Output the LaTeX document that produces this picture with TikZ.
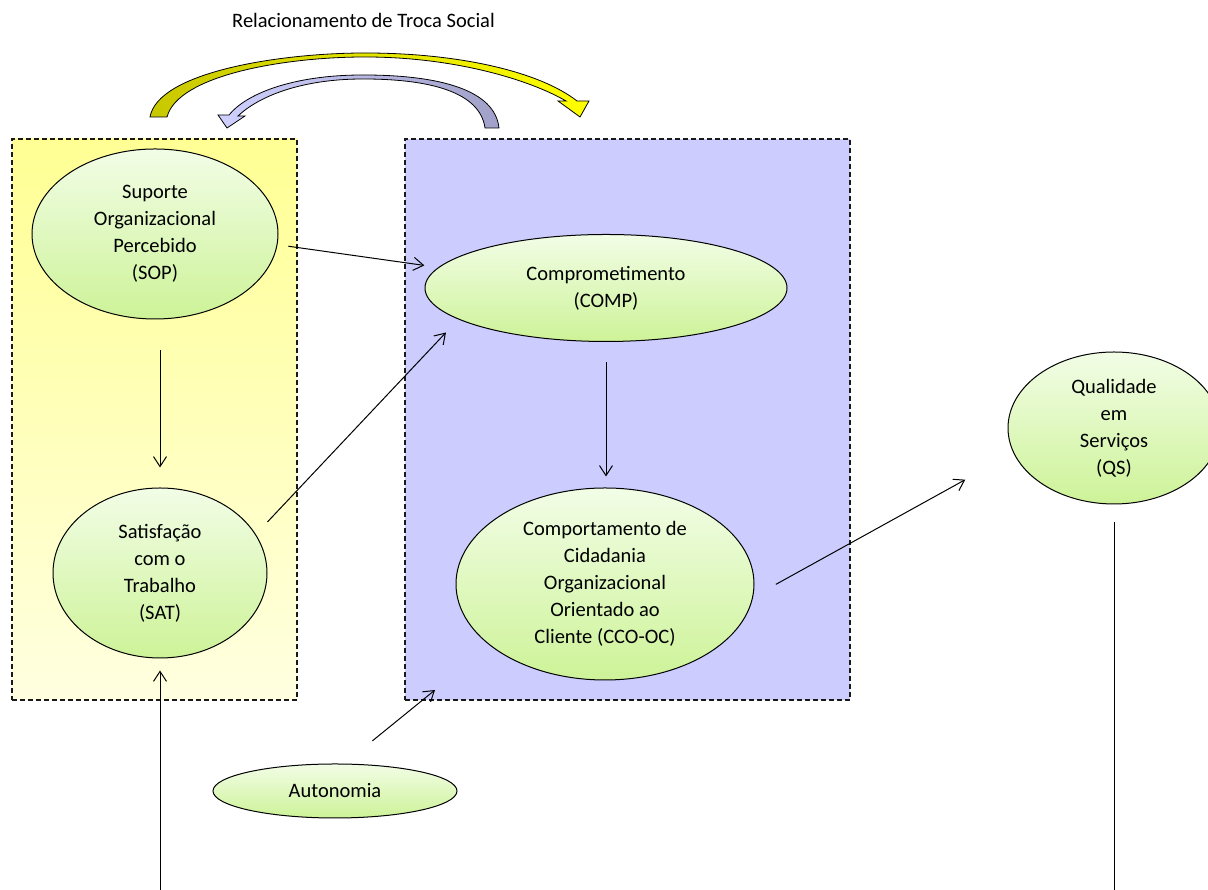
\documentclass[tikz,border=0pt]{standalone}
\usepackage{fontspec}
\setmainfont{Carlito}
\usetikzlibrary{shapes}
\usetikzlibrary{arrows.meta}
\definecolor{elltop}{RGB}{242,253,230}
\definecolor{ellbot}{RGB}{205,243,152}
\definecolor{roxo}{RGB}{204,204,255}
\definecolor{oliva}{RGB}{200,200,0}
\definecolor{amar}{RGB}{255,255,0}
\definecolor{lilas}{RGB}{208,208,255}
\definecolor{cinzaroxo}{RGB}{160,160,200}

\begin{document}
\begin{tikzpicture}[x=1pt,y=1pt]
	\tikzstyle{box}=[rectangle,draw=black!90,dash pattern=on 5pt off 3pt,line width=1.1pt,outer sep=0pt]
	\tikzstyle{var}=[ellipse,draw,line width=1pt,top color=elltop,bottom color=ellbot,inner sep=0pt,align=center,font=\fontsize{20.5}{27}\selectfont]
	\tikzstyle{seta}=[line width=1pt,-{Straight Barb[length=10pt,width=13pt]}]
	\useasboundingbox (0,0) rectangle (1208,890);

	\node[font=\fontsize{20.5}{27}\selectfont] (titulo) at (363.5,870) {Relacionamento de Troca Social};

	% troca social
	\path[draw=black,line width=0.8pt,left color=oliva,right color=amar]
		(150,773) .. controls (158,818) and (280,837) .. (365,837)
		.. controls (460,837) and (540,818) .. (577,789) -- (589,789) -- (580,773) -- (558,789) -- (566,789)
		.. controls (530,810) and (455,833) .. (365,833)
		.. controls (285,833) and (178,815) .. (167,773) -- cycle;
	\path[draw=black,line width=0.8pt,left color=lilas,right color=cinzaroxo]
		(499,762) .. controls (495,800) and (440,815) .. (363,815)
		.. controls (290,815) and (245,795) .. (229,775) -- (218,775) -- (227,762) -- (245,774) -- (238,774)
		.. controls (258,793) and (300,811) .. (363,811)
		.. controls (430,811) and (480,798) .. (485,762) -- cycle;

	% caixas
	\node[box,top color=yellow!42,bottom color=yellow!12,minimum width=285pt,minimum height=561pt] (amarela) at (154.5,470.5) {};
	\node[box,fill=roxo,minimum width=445pt,minimum height=561pt] (azul) at (627.5,470.5) {};

	\node[var,minimum width=246pt,minimum height=170pt] (sop) at (155,656) {Suporte\\Organizacional\\Percebido\\(SOP)};
	\node[var,minimum width=214pt,minimum height=170pt] (sat) at (160,317) {Satisfação\\com o\\Trabalho\\(SAT)};
	\node[var,minimum width=362pt,minimum height=107pt] (comp) at (606,602) {Comprometimento\\(COMP)};
	\node[var,minimum width=298pt,minimum height=192pt] (cco) at (605,306) {Comportamento de\\Cidadania\\Organizacional\\Orientado ao\\Cliente (CCO-OC)};
	\node[var,minimum width=212pt,minimum height=152pt] (qs) at (1114,462) {Qualidade\\em\\Serviços\\(QS)};
	\node[var,minimum width=244pt,minimum height=54pt] (aut) at (335,99) {Autonomia};

	\coordinate (fimaut) at (435,200);
	\coordinate (baseesq) at (160,0);
	\coordinate (basedir) at (1114,0);

	\draw[seta,shorten <=11pt,shorten >=14pt] (sop.-5) -- (comp.173);
	\draw[seta,shorten <=31pt,shorten >=20pt] (sop.south -| sat.north) -- (sat.north);
	\draw[seta,shorten <=17pt,shorten >=18pt] (sat.22) -- (comp.192);
	\draw[seta,shorten <=20pt,shorten >=11pt] (comp.south) -- (comp.south |- cco.north);
	\draw[seta,shorten <=26pt,shorten >=55pt] (cco.-5) -- (qs.194);
	\draw[seta,shorten <=36pt] (aut.71) -- (fimaut);
	\draw[seta,shorten >=12pt] (baseesq) -- (sat.south);
	\draw[line width=1pt,shorten <=18pt] (qs.south) -- (basedir);
\end{tikzpicture}
\end{document}
